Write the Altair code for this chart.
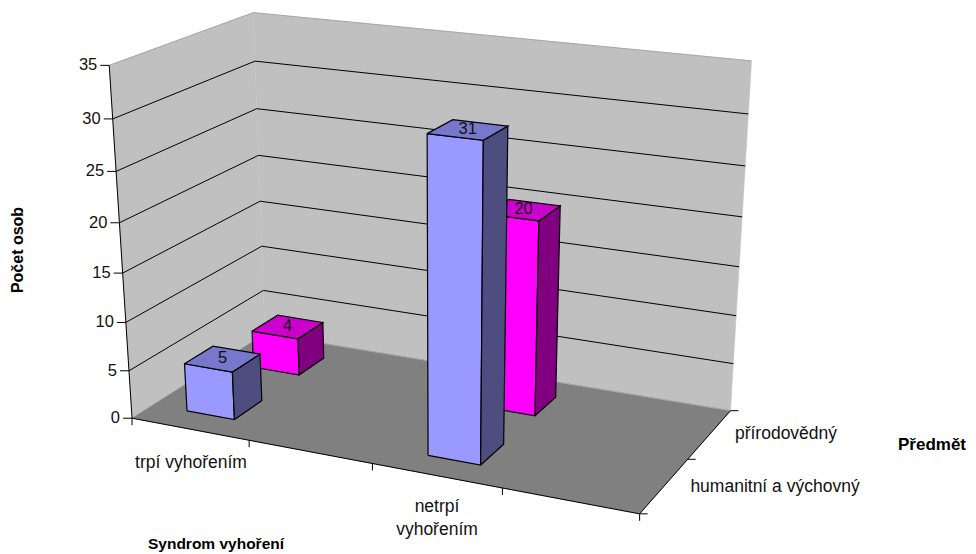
import numpy as np
import pandas as pd
import altair as alt

categories = ["trpí vyhořením", "", "netrpí vyhořením", ""]
series_names = ["humanitní a výchovný", "přírodovědný"]
humanitni = [5, None, 31, None]
prirodovedny = [4, None, 20, None]
y_ticks = [0, 5, 10, 15, 20, 25, 30, 35]
Y_MAX = 35

# Anchors of the drawn 3D box: (along, depth, height) -> picture position
box_3d = [(0,0,0),(0,0,35),(0,1,0),(0,1,35),(1,1,0),(1,1,35),(1,0,0)]
box_2d = [(131,417),(110,66),(266,335),(252.5,12),(730,410),(751.7,61),(640,514.5)]

A, b = [], []
for (u, v, h), (px, py) in zip(box_3d, box_2d):
    A.append([u, v, h, 1, 0, 0, 0, 0, -u*px, -v*px, -h*px]); b.append(px)
    A.append([0, 0, 0, 0, u, v, h, 1, -u*py, -v*py, -h*py]); b.append(py)
P = np.linalg.lstsq(np.array(A, float), np.array(b, float), rcond=None)[0]
P = np.append(P, 1).reshape(3, 4)

def proj(u, v, h):
    p = P @ np.array([u, v, h, 1.0])
    return float(p[0]/p[2]), float(p[1]/p[2])

polys, lines, texts = [], [], []
pid = [0]
def poly(pts, fill, stroke="#000000", sw=1.2):
    pid[0] += 1
    for i, (x, y) in enumerate(list(pts) + [pts[0]]):
        polys.append(dict(pid=pid[0], seq=i, x=x, y=y, fill=fill, stroke=stroke, sw=sw))
def line(pts, stroke="#000000", sw=1.0):
    pid[0] += 1
    for i, (x, y) in enumerate(pts):
        lines.append(dict(pid=pid[0], seq=i, x=x, y=y, stroke=stroke, sw=sw))
def text(x, y, t, size=17.5, bold=False, angle=0, align="center"):
    texts.append(dict(x=x, y=y, t=t, size=size, weight="bold" if bold else "normal", angle=angle, align=align))

WALL, FLOOR = "#C0C0C0", "#808080"
poly([proj(0,0,0), proj(0,0,Y_MAX), proj(0,1,Y_MAX), proj(0,1,0)], WALL, "#C0C0C0", 0.5)
poly([proj(0,1,0), proj(0,1,Y_MAX), proj(1,1,Y_MAX), proj(1,1,0)], WALL, "#C0C0C0", 0.5)
poly([proj(0,0,0), proj(0,1,0), proj(1,1,0), proj(1,0,0)], FLOOR, "#808080", 0.5)
bg_polys = polys
polys = []

for t in y_ticks[1:-1]:
    line([proj(0,0,t), proj(0,1,t), proj(1,1,t)])
line([proj(0,0,Y_MAX), proj(0,1,Y_MAX), proj(1,1,Y_MAX)], "#A6A6A6", 1.0)
line([proj(0,1,0), proj(1,1,0)], "#A6A6A6", 1.0)
line([proj(0,0,0), proj(0,0,Y_MAX)])
line([proj(0,0,0), proj(1,0,0)])
line([proj(1,0,0), proj(1,1,0)])
for t in y_ticks:
    x, y = proj(0,0,t)
    line([(x-9, y), (x, y)])
    text(x-12, y, str(t), 16.5, align="right")
for i in range(len(categories)+1):
    x, y = proj(i/len(categories),0,0)
    line([(x, y), (x, y+7)])
for i in range(len(series_names)+1):
    x, y = proj(1,i/len(series_names),0)
    line([(x, y), (x+8, y)])

COL = {0: ("#9999FF", "#7777CC", "#4D4D80"), 1: ("#FF00FF", "#CC00CC", "#800080")}
W = 0.41 / len(categories)
D = 0.41 / len(series_names)
def bar(cat, s, val):
    uc = (cat+0.5)/len(categories)
    vc = (s+0.5)/len(series_names)
    u0, u1, v0, v1 = uc-W/2, uc+W/2, vc-D/2, vc+D/2
    f, top, side = COL[s]
    poly([proj(u0,v0,0), proj(u1,v0,0), proj(u1,v0,val), proj(u0,v0,val)], f)
    poly([proj(u1,v0,0), proj(u1,v1,0), proj(u1,v1,val), proj(u1,v0,val)], side)
    poly([proj(u0,v0,val), proj(u1,v0,val), proj(u1,v1,val), proj(u0,v1,val)], top)
    x, y = proj(uc, vc, val)
    text(x, y-1, str(val), 16.5)

for s, vals in [(1, prirodovedny), (0, humanitni)]:
    for c, val in enumerate(vals):
        if val is not None:
            bar(c, s, val)
bar_polys = polys

text(191, 463, "trpí vyhořením")
text(437, 507, "netrpí")
text(437, 530, "vyhořením")
text(786, 434, "přírodovědný")
text(775, 487, "humanitní a výchovný")
text(216, 544, "Syndrom vyhoření", 15.5, True)
text(932, 445, "Předmět", 17, True)
text(18, 250, "Počet osob", 16, True, 270)

XS = alt.Scale(domain=[8, 968], range=[0, 960])
YS = alt.Scale(domain=[8, 554], range=[0, 546])

def poly_layer(rows):
    return alt.Chart(pd.DataFrame(rows)).mark_line(interpolate="linear", strokeJoin="miter").encode(
        x=alt.X("x:Q", scale=XS, axis=None),
        y=alt.Y("y:Q", scale=YS, axis=None),
        detail="pid:N",
        order="seq:Q",
        fill=alt.Fill("fill:N", scale=None),
        stroke=alt.Stroke("stroke:N", scale=None),
        strokeWidth=alt.StrokeWidth("sw:Q", scale=None),
    )

line_layer = alt.Chart(pd.DataFrame(lines)).mark_line().encode(
    x=alt.X("x:Q", scale=XS, axis=None),
    y=alt.Y("y:Q", scale=YS, axis=None),
    detail="pid:N",
    order="seq:Q",
    stroke=alt.Stroke("stroke:N", scale=None),
    strokeWidth=alt.StrokeWidth("sw:Q", scale=None),
)

text_layers = []
tdf = pd.DataFrame(texts)
for (angle, align, weight), g in tdf.groupby(["angle", "align", "weight"]):
    text_layers.append(alt.Chart(g).mark_text(
        font="Liberation Sans", fontWeight=weight, color="#000000" if weight == "bold" else "#111111",
        angle=int(angle), align=align, baseline="middle",
    ).encode(
        x=alt.X("x:Q", scale=XS, axis=None),
        y=alt.Y("y:Q", scale=YS, axis=None),
        text="t:N",
        size=alt.Size("size:Q", scale=None),
    ))

chart = alt.layer(poly_layer(bg_polys), line_layer, poly_layer(bar_polys), *text_layers).properties(
    width=960, height=546, padding=0, autosize=alt.AutoSizeParams(type="none"),
    background="#FFFFFF",
).configure_view(stroke=None)

chart.save("out.html", embed_options={"renderer": "svg", "actions": False})
